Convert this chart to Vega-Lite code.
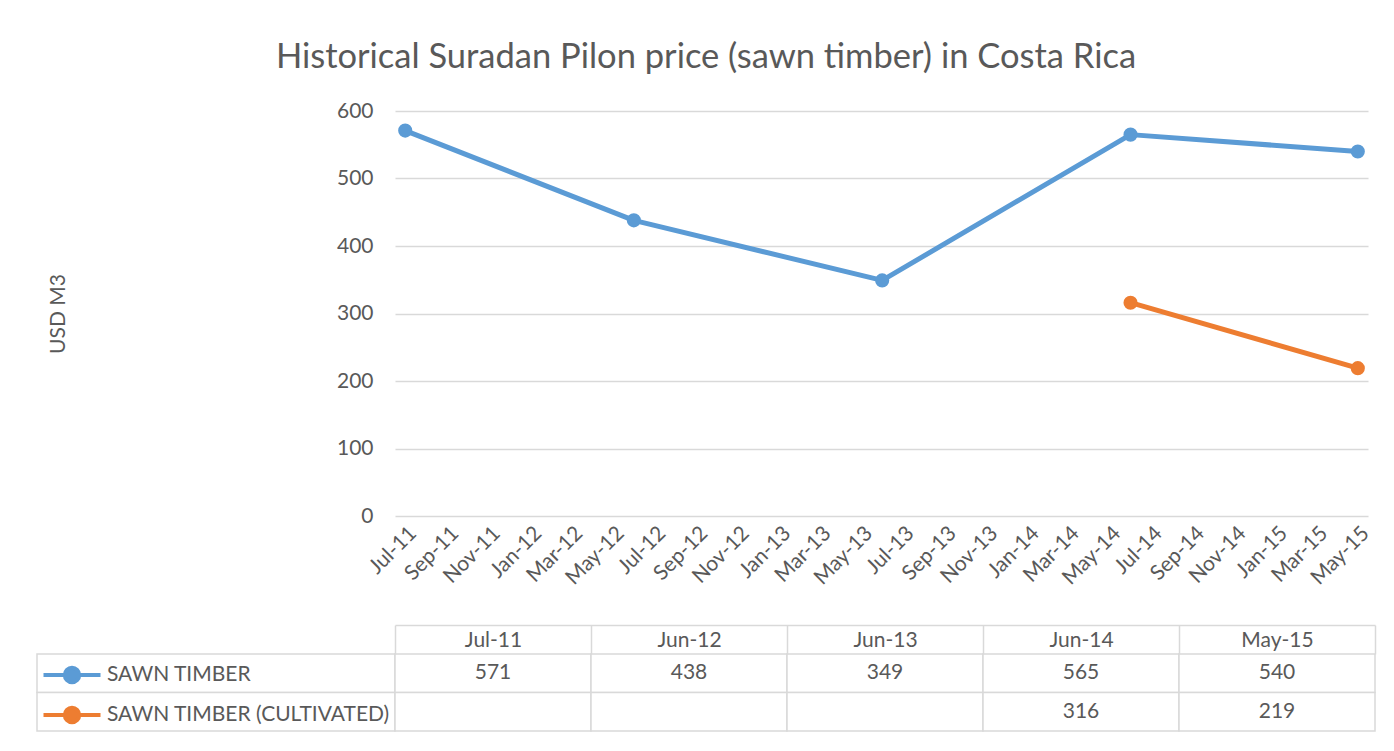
{
  "$schema": "https://vega.github.io/schema/vega-lite/v6.json",
  "background": "white",
  "padding": {"left": 36, "top": 39, "right": 5, "bottom": 5},
  "title": {
    "text": "Historical Suradan Pilon price (sawn timber) in Costa Rica",
    "font": "Lato",
    "fontSize": 34.5,
    "fontWeight": "normal",
    "color": "#595959",
    "anchor": "middle",
    "offset": 25
  },
  "datasets": {
    "prices": [
      {"date": "2011-07-01", "series": "SAWN TIMBER", "value": 571},
      {"date": "2012-06-01", "series": "SAWN TIMBER", "value": 438},
      {"date": "2013-06-01", "series": "SAWN TIMBER", "value": 349},
      {"date": "2014-06-01", "series": "SAWN TIMBER", "value": 565},
      {"date": "2015-05-01", "series": "SAWN TIMBER", "value": 540},
      {"date": "2014-06-01", "series": "SAWN TIMBER (CULTIVATED)", "value": 316},
      {"date": "2015-05-01", "series": "SAWN TIMBER (CULTIVATED)", "value": 219}
    ],
    "series": [
      {"series": "SAWN TIMBER"},
      {"series": "SAWN TIMBER (CULTIVATED)"}
    ],
    "table": [
      {"col": "Jul-11", "series": "SAWN TIMBER", "value": 571},
      {"col": "Jun-12", "series": "SAWN TIMBER", "value": 438},
      {"col": "Jun-13", "series": "SAWN TIMBER", "value": 349},
      {"col": "Jun-14", "series": "SAWN TIMBER", "value": 565},
      {"col": "May-15", "series": "SAWN TIMBER", "value": 540},
      {"col": "Jul-11", "series": "SAWN TIMBER (CULTIVATED)", "value": null},
      {"col": "Jun-12", "series": "SAWN TIMBER (CULTIVATED)", "value": null},
      {"col": "Jun-13", "series": "SAWN TIMBER (CULTIVATED)", "value": null},
      {"col": "Jun-14", "series": "SAWN TIMBER (CULTIVATED)", "value": 316},
      {"col": "May-15", "series": "SAWN TIMBER (CULTIVATED)", "value": 219}
    ]
  },
  "columns": 2,
  "bounds": "flush",
  "spacing": {"row": 138, "column": 0},
  "concat": [
    {
      "width": 358,
      "height": 405,
      "data": {"name": "series"},
      "mark": {"type": "point", "opacity": 0}
    },
    {
      "width": 973,
      "height": 405,
      "data": {"name": "prices"},
      "encoding": {
        "x": {
          "field": "date",
          "type": "temporal",
          "scale": {
            "type": "utc",
            "domain": [
              {"year": 2011, "month": 6, "date": 16, "utc": true},
              {"year": 2015, "month": 5, "date": 16, "utc": true}
            ]
          },
          "axis": {
            "title": null,
            "labelExpr": "utcFormat(datum.value, '%b-%y')",
            "tickCount": {"interval": "month", "step": 2},
            "labelAngle": -45,
            "labelFont": "Lato",
            "labelFontSize": 21,
            "labelColor": "#595959",
            "labelPadding": 6,
            "labelOverlap": false,
            "labelFlush": false,
            "ticks": false,
            "domain": false,
            "grid": false
          }
        },
        "y": {
          "field": "value",
          "type": "quantitative",
          "scale": {"domain": [0, 600]},
          "axis": {
            "title": "USD M3",
            "values": [0, 100, 200, 300, 400, 500, 600],
            "grid": true,
            "gridColor": "#d9d9d9",
            "gridWidth": 1.5,
            "domain": false,
            "ticks": false,
            "labelFont": "Lato",
            "labelFontSize": 21,
            "labelColor": "#595959",
            "labelPadding": 22,
            "titleFont": "Lato",
            "titleFontSize": 21,
            "titleFontWeight": "normal",
            "titleColor": "#595959",
            "titlePadding": 268
          }
        },
        "color": {
          "field": "series",
          "type": "nominal",
          "scale": {
            "domain": ["SAWN TIMBER", "SAWN TIMBER (CULTIVATED)"],
            "range": ["#5b9bd5", "#ed7d31"]
          },
          "legend": {
            "orient": "none",
            "legendX": 14,
            "legendY": 543,
            "title": null,
            "padding": 0,
            "symbolType": "M-1.5,0L1.5,0M0.38,0A0.38,0.38,0,1,1,-0.38,0A0.38,0.38,0,1,1,0.38,0Z",
            "symbolSize": 1444,
            "symbolStrokeWidth": 4,
            "symbolOpacity": 1,
            "labelFont": "Lato",
            "labelFontSize": 21,
            "labelColor": "#595959",
            "labelOffset": 14,
            "labelLimit": 500,
            "rowPadding": 3,
            "encode": {
              "symbols": {
                "update": {
                  "fill": {"scale": "color", "field": "value"},
                  "stroke": {"scale": "color", "field": "value"}
                }
              }
            }
          }
        }
      },
      "layer": [
        {"mark": {"type": "line", "strokeWidth": 5, "strokeCap": "round", "strokeJoin": "round"}},
        {"mark": {"type": "point", "filled": true, "size": 200, "opacity": 1}}
      ]
    },
    {
      "width": 358,
      "height": 77,
      "data": {"name": "series"},
      "mark": {"type": "rect", "fill": "white", "stroke": "#d9d9d9", "strokeWidth": 1.5},
      "encoding": {
        "y": {
          "field": "series",
          "type": "nominal",
          "sort": null,
          "axis": null,
          "scale": {"paddingInner": 0, "paddingOuter": 0}
        }
      }
    },
    {
      "width": 980,
      "height": 77,
      "data": {"name": "table"},
      "encoding": {
        "x": {
          "field": "col",
          "type": "ordinal",
          "sort": null,
          "scale": {"paddingInner": 0, "paddingOuter": 0},
          "axis": {
            "orient": "top",
            "title": null,
            "offset": 29,
            "domainColor": "#d9d9d9",
            "domainWidth": 1.5,
            "tickBand": "extent",
            "tickSize": -29,
            "tickColor": "#d9d9d9",
            "tickWidth": 1.5,
            "labelAngle": 0,
            "labelBaseline": "middle",
            "labelPadding": 14,
            "labelFont": "Lato",
            "labelFontSize": 21,
            "labelColor": "#595959"
          }
        },
        "y": {
          "field": "series",
          "type": "nominal",
          "sort": null,
          "axis": null,
          "scale": {"paddingInner": 0, "paddingOuter": 0}
        }
      },
      "layer": [
        {"mark": {"type": "rect", "fill": "white", "stroke": "#d9d9d9", "strokeWidth": 1.5}},
        {
          "transform": [{"filter": "datum.value != null"}],
          "mark": {"type": "text", "font": "Lato", "fontSize": 21, "color": "#595959"},
          "encoding": {"text": {"field": "value", "type": "quantitative"}}
        }
      ]
    }
  ],
  "config": {
    "view": {"stroke": null},
    "font": "Lato"
  }
}
